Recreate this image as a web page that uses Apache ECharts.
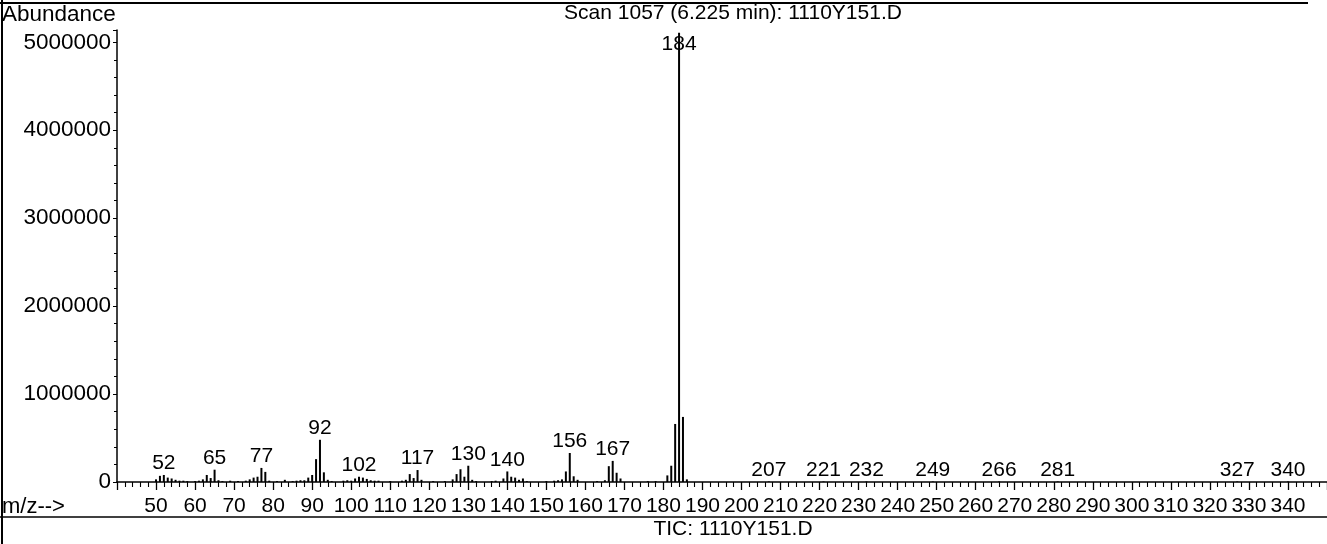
<!DOCTYPE html>
<html>
<head>
<meta charset="utf-8">
<script src="https://cdn.jsdelivr.net/npm/echarts@6/dist/echarts.min.js"></script>
<style>html,body{margin:0;padding:0;background:#fff}#c{width:1327px;height:544px}</style>
</head>
<body>
<div id="c"></div>
<script>
// m/z values of peaks
const mz = [50,51,52,53,54,55,56,57,58,60,61,62,63,64,65,66,67,69,71,73,74,75,76,77,78,79,81,83,85,86,87,88,89,90,91,92,93,94,95,98,99,100,101,102,103,104,105,106,107,110,113,114,115,116,117,118,121,124,126,127,128,129,130,131,132,136,137,139,140,141,142,143,144,145,150,152,153,154,155,156,157,158,163,165,166,167,168,169,176,178,181,182,183,184,185,186,207,221,232,249,266,281,327,340];
// abundance of each peak
const abundance = [30000,70000,80000,50000,40000,25000,15000,15000,10000,10000,15000,30000,80000,45000,140000,20000,10000,15000,10000,15000,30000,50000,60000,160000,115000,15000,10000,25000,10000,15000,20000,20000,50000,80000,260000,480000,110000,25000,10000,15000,20000,15000,40000,60000,50000,35000,20000,15000,15000,10000,15000,25000,90000,45000,136000,25000,10000,10000,30000,90000,145000,60000,185000,25000,10000,10000,15000,40000,120000,60000,50000,25000,40000,10000,10000,15000,20000,30000,120000,330000,65000,25000,10000,20000,180000,240000,105000,40000,10000,10000,75000,185000,660000,5110000,740000,30000,6000,6000,6000,6000,6000,6000,6000,6000];
// labelled peaks
const labeledPeaks = [52,65,77,92,102,117,130,140,156,167,184,207,221,232,249,266,281,327,340];
// axis tick labels
const yTickValues = [0,1000000,2000000,3000000,4000000,5000000];
const xTickLabels = [50,60,70,80,90,100,110,120,130,140,150,160,170,180,190,200,210,220,230,240,250,260,270,280,290,300,310,320,330,340];

const FF = '"Liberation Sans", Arial, sans-serif';
const FS = 21;

const items = mz.map((m, i) => {
  const it = { value: [m, abundance[i]] };
  if (labeledPeaks.includes(m)) {
    const top = abundance[i] > 5000000;
    it.label = { show: true, position: top ? 'insideTop' : 'top', distance: 1,
      color: '#000', fontSize: FS, fontFamily: FF, formatter: String(m) };
  }
  return it;
});

const chart = echarts.init(document.getElementById('c'), null, { renderer: 'canvas' });
chart.setOption({
  animation: false,
  backgroundColor: '#fff',
  grid: { left: 117, right: 0, top: 30, bottom: 62, containLabel: false, outerBoundsMode: 'none' },
  xAxis: {
    type: 'value', min: 40, max: 350, interval: 10,
    axisLine: { show: true, onZero: false, lineStyle: { color: '#000', width: 1.5 } },
    axisTick: { show: true, length: 8, lineStyle: { color: '#000', width: 1.3 } },
    minorTick: { show: true, splitNumber: 5, length: 5, lineStyle: { color: '#000', width: 1.1 } },
    splitLine: { show: false },
    axisLabel: { margin: 14, color: '#000', fontSize: FS, fontFamily: FF,
      formatter: v => xTickLabels.includes(v) ? String(v) : '' }
  },
  yAxis: {
    type: 'value', min: 0, max: 5140000, interval: 1000000,
    axisLine: { show: true, lineStyle: { color: '#000', width: 1.5 } },
    axisTick: { show: true, length: 4, lineStyle: { color: '#000' } },
    minorTick: { show: true, splitNumber: 5, length: 3, lineStyle: { color: '#000' } },
    splitLine: { show: false },
    axisLabel: { margin: 6, color: '#000', fontSize: 22.5, fontFamily: FF,
      formatter: v => yTickValues.includes(v) ? String(v) : '' }
  },
  series: [{
    type: 'bar', barWidth: 2, silent: true,
    itemStyle: { color: '#000' },
    label: { show: false },
    data: items
  }],
  graphic: [
    { type: 'line', shape: { x1: 2, y1: 0, x2: 2, y2: 544 }, style: { stroke: '#000', lineWidth: 2 } },
    { type: 'line', shape: { x1: 0, y1: 3, x2: 1308, y2: 3 }, style: { stroke: '#000', lineWidth: 2 } },
    { type: 'line', shape: { x1: 0, y1: 517, x2: 1327, y2: 517 }, style: { stroke: '#000', lineWidth: 1.5 } },
    { type: 'text', x: 2, y: 15, style: { text: 'Abundance', fill: '#000', fontSize: 22.5, fontFamily: FF, align: 'left', verticalAlign: 'middle' } },
    { type: 'text', x: 733, y: 13, style: { text: 'Scan 1057 (6.225 min): 1110Y151.D', fill: '#000', fontSize: 21, fontFamily: FF, align: 'center', verticalAlign: 'middle' } },
    { type: 'text', x: 2, y: 507, style: { text: 'm/z-->', fill: '#000', fontSize: 22, fontFamily: FF, align: 'left', verticalAlign: 'middle' } },
    { type: 'text', x: 733, y: 529, style: { text: 'TIC: 1110Y151.D', fill: '#000', fontSize: 21, fontFamily: FF, align: 'center', verticalAlign: 'middle' } }
  ]
});
</script>
</body>
</html>
